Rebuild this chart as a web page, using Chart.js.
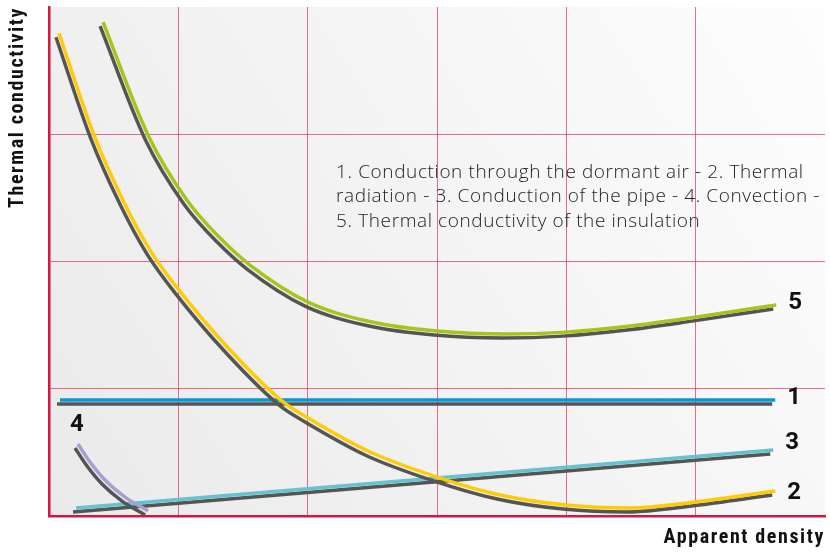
<!DOCTYPE html>
<html>
<head>
<meta charset="utf-8">
<script src="https://cdn.jsdelivr.net/npm/chart.js@4.4.0/dist/chart.umd.min.js"></script>
<style>
  html, body { margin: 0; padding: 0; background: #fff; }
  .chart { width: 830px; height: 554px; }
</style>
</head>
<body>
<div class="chart">
  <canvas id="myChart" width="830" height="554"></canvas>
</div>
<script>
  // data kurva
  const airX = [0.085, 5.615];
  const airY = [0.911, 0.911];

  const radiationX = [0.077, 0.348, 0.572, 0.781, 1.005, 1.400, 1.810, 2.003, 2.483, 3.001, 3.488, 3.998, 4.493, 4.996, 5.615];
  const radiationY = [3.794, 2.993, 2.482, 2.090, 1.775, 1.304, 0.896, 0.770, 0.503, 0.306, 0.165, 0.086, 0.063, 0.110, 0.196];

  const pipeX = [0.209, 5.600];
  const pipeY = [0.063, 0.518];

  const convectionX = [0.224, 0.317, 0.433, 0.588, 0.766];
  const convectionY = [0.566, 0.424, 0.283, 0.149, 0.039];

  const insulationX = [0.418, 0.766, 1.067, 1.323, 1.554, 2.003, 2.498, 3.001, 3.527, 3.998, 4.493, 4.996, 5.623];
  const insulationY = [3.881, 2.993, 2.482, 2.184, 1.972, 1.681, 1.524, 1.453, 1.430, 1.445, 1.493, 1.563, 1.658];

  const curveNumbers = ['1', '2', '3', '4', '5'];
  const noteLines = [
    '1. Conduction through the dormant air - 2. Thermal',
    'radiation - 3. Conduction of the pipe - 4. Convection -',
    '5. Thermal conductivity of the insulation'
  ];
  const xTitle = 'Apparent density';
  const yTitle = 'Thermal conductivity';

  const red = '#d5173e';
  const gridRed = 'rgba(214, 50, 90, 0.7)';
  const condensed = "'Liberation Sans Narrow', 'Roboto Condensed', Roboto, sans-serif";

  function pts(xs, ys) {
    return xs.map((x, i) => ({ x: x, y: ys[i] }));
  }

  function line(label, xs, ys, color, num, order) {
    return {
      label: label,
      data: pts(xs, ys),
      borderColor: color,
      borderWidth: 3.5,
      pointRadius: 0,
      cubicInterpolationMode: 'monotone',
      fill: false,
      order: order,
      num: num
    };
  }

  // background abu-abu gradasi + jarak huruf judul sumbu
  const bgPlugin = {
    id: 'bg',
    beforeDraw(chart) {
      const { ctx, chartArea: a } = chart;
      const g = ctx.createLinearGradient(a.left, a.bottom, a.right, a.top);
      g.addColorStop(0, '#eaeaea');
      g.addColorStop(1, '#fdfdfd');
      ctx.save();
      ctx.fillStyle = g;
      ctx.fillRect(a.left, a.top, a.right - a.left, a.bottom - a.top);
      ctx.restore();
      ctx.letterSpacing = '1.6px';
    },
    afterDraw(chart) {
      chart.ctx.letterSpacing = '0px';
    }
  };

  // bayangan abu-abu di bawah tiap garis
  const shadowPlugin = {
    id: 'shadow',
    beforeDatasetDraw(chart) {
      const ctx = chart.ctx;
      ctx.save();
      ctx.letterSpacing = '0px';
      ctx.shadowColor = '#555555';
      ctx.shadowBlur = 0;
      ctx.shadowOffsetX = -3;
      ctx.shadowOffsetY = 4;
    },
    afterDatasetDraw(chart) {
      chart.ctx.restore();
    }
  };

  // nomor kurva + catatan
  const textPlugin = {
    id: 'texts',
    afterDatasetsDraw(chart) {
      const ctx = chart.ctx;
      ctx.save();
      ctx.letterSpacing = '0px';
      ctx.fillStyle = '#111';
      ctx.font = 'bold 24px Roboto, sans-serif';
      ctx.textBaseline = 'middle';
      chart.data.datasets.forEach((ds, i) => {
        const meta = chart.getDatasetMeta(i);
        if (ds.num === '4') {
          const p = meta.data[0];
          ctx.textAlign = 'center';
          ctx.fillText(ds.num, p.x - 1, p.y - 19);
        } else {
          const p = meta.data[meta.data.length - 1];
          ctx.textAlign = 'left';
          const dy = ds.num === '3' ? -7 : (ds.num === '2' ? 2 : -2);
          ctx.fillText(ds.num, p.x + 12, p.y + dy);
        }
      });
      const xs = chart.scales.x, ys = chart.scales.y;
      ctx.font = '300 19px "Open Sans", sans-serif';
      ctx.letterSpacing = '0.6px';
      ctx.fillStyle = '#222';
      ctx.textAlign = 'left';
      noteLines.forEach((t, i) => {
        ctx.fillText(t, xs.getPixelForValue(2.22), ys.getPixelForValue(2.7) + i * 24.5);
      });
      ctx.restore();
    }
  };

  const ctx = document.getElementById('myChart').getContext('2d');
  const gridColor = (c) => (c.tick && (c.tick.value === c.scale.min || c.tick.value === c.scale.max)) ? 'rgba(0,0,0,0)' : gridRed;

  new Chart(ctx, {
    type: 'line',
    data: {
      datasets: [
        line('Conduction through the dormant air', airX, airY, '#0a97d9', curveNumbers[0], 3),
        line('Thermal radiation', radiationX, radiationY, '#ffcb05', curveNumbers[1], 1),
        line('Conduction of the pipe', pipeX, pipeY, '#62c4d1', curveNumbers[2], 4),
        line('Convection', convectionX, convectionY, '#a79fd3', curveNumbers[3], 2),
        line('Thermal conductivity of the insulation', insulationX, insulationY, '#a4c618', curveNumbers[4], 0)
      ]
    },
    options: {
      responsive: false,
      animation: false,
      layout: { padding: { top: 7, right: 5, left: 0, bottom: 0 } },
      plugins: { legend: { display: false }, tooltip: { enabled: false } },
      scales: {
        x: {
          type: 'linear', min: 0, max: 6,
          ticks: { display: false, stepSize: 1 },
          grid: { color: gridColor, drawTicks: false, lineWidth: 1 },
          border: { display: true, color: red, width: 2.5 },
          title: { display: true, text: xTitle, align: 'end', color: '#111',
                   font: { family: condensed, size: 20, weight: 'bold' }, padding: { top: 8 } },
          afterFit(s) { s.height = 38; }
        },
        y: {
          type: 'linear', min: 0, max: 4,
          ticks: { display: false, stepSize: 1 },
          grid: { color: gridColor, drawTicks: false, lineWidth: 1 },
          border: { display: true, color: red, width: 2.5 },
          title: { display: true, text: yTitle, align: 'end', color: '#111',
                   font: { family: condensed, size: 20, weight: 'bold' }, padding: { top: 6 } },
          afterFit(s) { s.width = 49; }
        }
      }
    },
    plugins: [bgPlugin, shadowPlugin, textPlugin]
  });
</script>
</body>
</html>
